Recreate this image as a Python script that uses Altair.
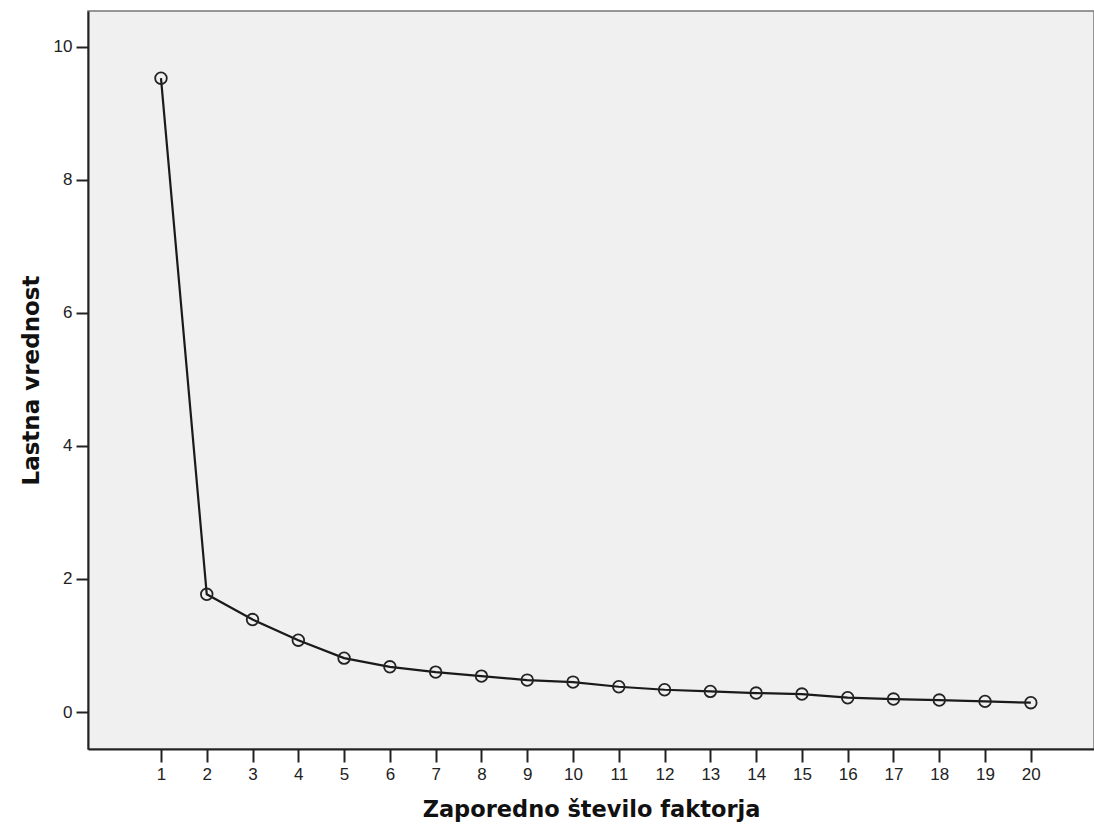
import altair as alt
import pandas as pd

factors = list(range(1, 21))
eigenvalues = [9.53, 1.77, 1.39, 1.08, 0.81, 0.68, 0.60, 0.54, 0.48, 0.45,
               0.38, 0.335, 0.31, 0.285, 0.27, 0.215, 0.195, 0.18, 0.16, 0.14]
y_ticks = [0, 2, 4, 6, 8, 10]

df = pd.DataFrame({"factor": factors, "eigen": eigenvalues})

x = alt.X("factor:Q",
          scale=alt.Scale(domain=[-0.594, 21.38], nice=False, zero=False),
          axis=alt.Axis(values=factors, title="Zaporedno število faktorja", grid=False,
                        tickSize=13, tickWidth=2, tickColor="#222", domainColor="#222",
                        domainWidth=2, labelFontSize=17, labelColor="#222",
                        labelFont="Liberation Sans", labelPadding=4,
                        titleFont="DejaVu Sans", titleFontSize=22.5, titleFontWeight="bold",
                        titleColor="#111", titlePadding=16))
y = alt.Y("eigen:Q",
          scale=alt.Scale(domain=[-0.556, 10.54], nice=False, zero=False),
          axis=alt.Axis(values=y_ticks, title="Lastna vrednost", grid=False,
                        tickSize=12, tickWidth=2, tickColor="#222", domainColor="#222",
                        domainWidth=2, labelFontSize=17, labelColor="#222",
                        labelFont="Liberation Sans", labelPadding=4,
                        titleFont="DejaVu Sans", titleFontSize=23, titleFontWeight="bold",
                        titleColor="#111", titlePadding=10))

base = alt.Chart(df)
line = base.mark_line(color="#1a1a1a", strokeWidth=2.2).encode(x=x, y=y)
pts = base.mark_point(shape="circle", size=135, filled=False, color="#222",
                      strokeWidth=1.8, opacity=1).encode(x=x, y=y)

chart = (line + pts).properties(
    width=1006, height=738,
    padding={"left": 88, "top": 11, "right": 0, "bottom": 82},
    autosize=alt.AutoSizeParams(type="none"),
    background="white",
).configure_view(fill="#f0f0f0", stroke="#777", strokeWidth=1.5)

chart.save("out.html", embed_options={"renderer": "svg", "actions": False})
